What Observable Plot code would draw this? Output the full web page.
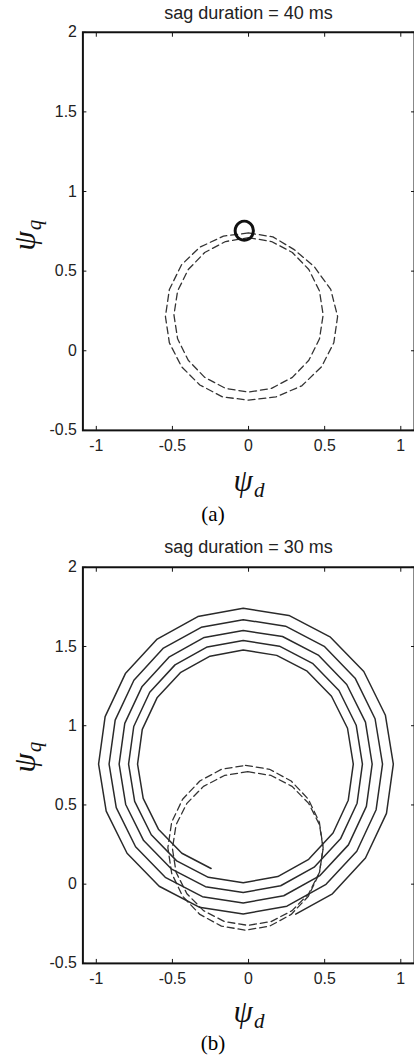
<!DOCTYPE html>
<html>
<head>
<meta charset="utf-8">
<script src="https://cdn.jsdelivr.net/npm/d3@7"></script>
<script src="https://cdn.jsdelivr.net/npm/@observablehq/plot@0.6"></script>
<style>
html,body{margin:0;padding:0;background:#fff;overflow:hidden}
#page{position:relative;width:414px;height:1056px;overflow:hidden;background:#fff}
.title{position:absolute;left:83px;width:331px;text-align:center;font-family:'Liberation Sans',Arial,sans-serif;font-size:18px;line-height:20px;color:#222}
.psi{position:absolute;font-family:'Liberation Serif','DejaVu Serif',serif;font-style:italic;color:#111;font-size:31px;line-height:34px;height:34px;white-space:nowrap;text-align:center}
.psi .sub{font-size:21px;position:relative;top:6px;margin-left:1px}
.cap{position:absolute;font-family:'Liberation Serif',serif;font-size:21px;line-height:24px;color:#000;text-align:center;width:60px}
.chart{position:absolute;left:0}
</style>
</head>
<body>
<div id="page">
  <div class="title" style="top:3px">sag duration = 40 ms</div>
  <div class="chart" id="chartA" style="top:0px"></div>
  <div class="psi" style="left:-5px;top:218px;width:60px;transform:rotate(-90deg)">ψ<span class="sub">q</span></div>
  <div class="psi" style="left:149px;top:464px;width:200px">ψ<span class="sub">d</span></div>
  <div class="cap" style="left:183px;top:502px">(a)</div>

  <div class="title" style="top:537px">sag duration = 30 ms</div>
  <div class="chart" id="chartB" style="top:535px"></div>
  <div class="psi" style="left:-5px;top:740px;width:60px;transform:rotate(-90deg)">ψ<span class="sub">q</span></div>
  <div class="psi" style="left:149px;top:995px;width:200px">ψ<span class="sub">d</span></div>
  <div class="cap" style="left:183px;top:1031px">(b)</div>
</div>
<script>
// ---------- axes ----------
const xDomain = [-1.088, 1.09];
const yDomain = [-0.5, 2];
const xTicks = [-1, -0.5, 0, 0.5, 1];
const yTicks = [-0.5, 0, 0.5, 1, 1.5, 2];

// ---------- panel (a): sag duration = 40 ms ----------
// dashed trajectory during the sag (two loops), [psi_d, psi_q]
const aSagLoopOuter = [
  [0.0,0.74],[0.16,0.715],[0.30,0.635],[0.43,0.53],[0.54,0.385],[0.585,0.215],
  [0.56,0.05],[0.48,-0.10],[0.35,-0.22],[0.18,-0.29],[0.0,-0.31],[-0.17,-0.29],
  [-0.32,-0.215],[-0.44,-0.10],[-0.52,0.05],[-0.546,0.215],[-0.52,0.385],
  [-0.44,0.54],[-0.32,0.65],[-0.165,0.72],[0.0,0.74]
];
const aSagLoopInner = [
  [0.0,0.71],[0.151,0.686],[0.288,0.617],[0.396,0.51],[0.466,0.375],[0.49,0.225],
  [0.466,0.075],[0.396,-0.06],[0.288,-0.167],[0.151,-0.236],[0.0,-0.26],
  [-0.151,-0.236],[-0.288,-0.167],[-0.396,-0.06],[-0.466,0.075],[-0.49,0.225],
  [-0.466,0.375],[-0.396,0.51],[-0.288,0.617],[-0.151,0.686],[0.0,0.71]
];
// solid trajectory after recovery (small loop)
const aAfter = [
  [0.032,0.754],[0.024,0.784],[0.002,0.806],[-0.028,0.814],[-0.058,0.806],
  [-0.080,0.784],[-0.088,0.754],[-0.080,0.724],[-0.058,0.702],[-0.028,0.694],
  [0.002,0.702],[0.024,0.724],[0.032,0.754]
];

// ---------- panel (b): sag duration = 30 ms ----------
const bSagLoopOuter = [
  [-0.02,0.75],[0.138,0.725],[0.28,0.651],[0.393,0.536],[0.465,0.391],[0.49,0.23],
  [0.465,0.069],[0.393,-0.076],[0.28,-0.191],[0.138,-0.265],[-0.02,-0.29],
  [-0.178,-0.265],[-0.32,-0.191],[-0.433,-0.076],[-0.505,0.069],[-0.53,0.23],
  [-0.505,0.391],[-0.433,0.536],[-0.32,0.651],[-0.178,0.725],[-0.02,0.75]
];
const bSagLoopInner = [
  [-0.005,0.71],[0.148,0.686],[0.286,0.617],[0.395,0.51],[0.466,0.375],[0.49,0.225],
  [0.466,0.075],[0.395,-0.06],[0.286,-0.167],[0.148,-0.236],[-0.005,-0.26],
  [-0.158,-0.236],[-0.296,-0.167],[-0.405,-0.06],[-0.476,0.075],[-0.5,0.225],
  [-0.476,0.375],[-0.405,0.51],[-0.296,0.617],[-0.158,0.686],[-0.005,0.71]
];
const bAfter = [
  [-0.246,0.099],[-0.438,0.195],[-0.592,0.347],[-0.692,0.541],[-0.729,0.758],
  [-0.698,0.977],[-0.601,1.176],[-0.448,1.335],[-0.253,1.439],[-0.035,1.478],
  [0.185,1.444],[0.385,1.344],[0.545,1.186],[0.650,0.984],[0.688,0.758],
  [0.655,0.530],[0.555,0.323],[0.395,0.157],[0.192,0.048],[-0.035,0.009],
  [-0.264,0.043],[-0.472,0.147],[-0.639,0.312],[-0.748,0.523],[-0.788,0.758],
  [-0.754,0.995],[-0.649,1.211],[-0.483,1.384],[-0.271,1.497],[-0.035,1.538],
  [0.203,1.502],[0.420,1.394],[0.594,1.222],[0.707,1.003],[0.748,0.758],
  [0.713,0.511],[0.604,0.286],[0.431,0.107],[0.211,-0.010],[-0.035,-0.053],
  [-0.283,-0.016],[-0.508,0.097],[-0.689,0.275],[-0.807,0.503],[-0.850,0.758],
  [-0.813,1.015],[-0.699,1.248],[-0.520,1.435],[-0.291,1.557],[-0.035,1.601],
  [0.223,1.563],[0.458,1.446],[0.645,1.260],[0.768,1.023],[0.812,0.758],
  [0.774,0.491],[0.656,0.248],[0.469,0.054],[0.231,-0.073],[-0.035,-0.119],
  [-0.303,-0.079],[-0.547,0.043],[-0.742,0.236],[-0.869,0.483],[-0.916,0.758],
  [-0.876,1.035],[-0.753,1.287],[-0.559,1.490],[-0.311,1.621],[-0.035,1.669],
  [0.243,1.628],[0.497,1.501],[0.700,1.300],[0.831,1.044],[0.880,0.758],
  [0.838,0.470],[0.711,0.208],[0.509,-0.001],[0.252,-0.139],[-0.035,-0.188],
  [-0.324,-0.145],[-0.587,-0.013],[-0.798,0.195],[-0.935,0.461],[-0.985,0.758],
  [-0.942,1.057],[-0.809,1.329],[-0.600,1.547],[-0.333,1.689],[-0.035,1.741],
  [0.265,1.696],[0.538,1.559],[0.757,1.342],[0.899,1.066],[0.951,0.758],
  [0.906,0.447],[0.768,0.165],[0.551,-0.061],[0.310,-0.189]
];

const fmt = d => `${d}`;
const blank = () => "";

function panel(dashLoops, solid, solidStyle, plotH) {
  const px = d => d[0], py = d => d[1];
  return Plot.plot({
    width: 417,
    height: 32 + plotH + 25,
    marginTop: 32, marginBottom: 25, marginLeft: 83, marginRight: 0,
    x: {domain: xDomain, label: null},
    y: {domain: yDomain, label: null},
    style: {fontFamily: "'Liberation Sans', Arial, sans-serif", fontSize: "16px", color: "#222", background: "transparent", overflow: "visible"},
    marks: [
      ...dashLoops.map(loop => Plot.line(loop, {x: px, y: py, stroke: "#333", strokeWidth: 1.3, strokeDasharray: "7,4"})),
      Plot.line(solid, {x: px, y: py, ...solidStyle}),
      Plot.frame({stroke: "#111", strokeWidth: 2}),
      Plot.axisX({anchor: "bottom", ticks: xTicks, tickSize: -4, tickPadding: 13, tickFormat: fmt, stroke: "#111", fill: "#222"}),
      Plot.axisX({anchor: "top", ticks: xTicks, tickSize: -4, tickFormat: blank, stroke: "#111"}),
      Plot.axisY({anchor: "left", ticks: yTicks, tickSize: -4, tickPadding: 10, tickFormat: fmt, stroke: "#111", fill: "#222"}),
      Plot.axisY({anchor: "right", ticks: yTicks, tickSize: -4, tickFormat: blank, stroke: "#111"})
    ]
  });
}

document.getElementById("chartA").append(
  panel([aSagLoopOuter, aSagLoopInner], aAfter, {stroke: "#111", strokeWidth: 3, curve: "catmull-rom"}, 401)
);
document.getElementById("chartB").append(
  panel([bSagLoopOuter, bSagLoopInner], bAfter, {stroke: "#2a2a2a", strokeWidth: 1.5}, 399)
);
</script>
</body>
</html>
